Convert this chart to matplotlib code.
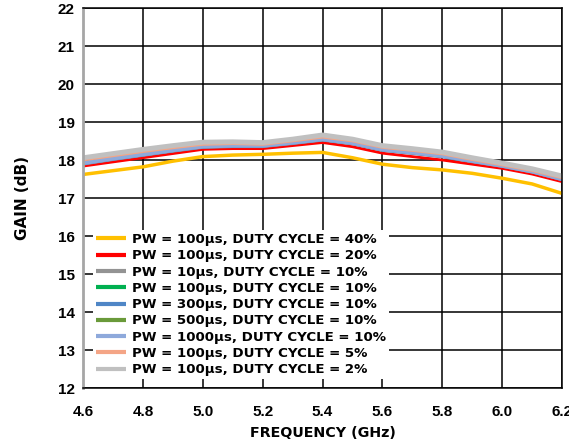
import matplotlib
matplotlib.use("Agg")
import matplotlib.pyplot as plt

plt.rcParams['font.family'] = ['Liberation Sans', 'DejaVu Sans']
plt.rcParams['font.weight'] = 'bold'

freq = [4.6, 4.7, 4.8, 4.9, 5.0, 5.1, 5.2, 5.3, 5.4, 5.5, 5.6, 5.7, 5.8, 5.9, 6.0, 6.1, 6.2]

gain_100us_40 = [17.62, 17.72, 17.82, 17.97, 18.09, 18.13, 18.15, 18.18, 18.20, 18.06, 17.89, 17.80, 17.74, 17.65, 17.52, 17.37, 17.12]
gain_100us_20 = [17.84, 17.95, 18.06, 18.17, 18.28, 18.30, 18.30, 18.38, 18.46, 18.35, 18.18, 18.09, 18.00, 17.89, 17.78, 17.63, 17.43]
gain_10us_10 = [17.90, 18.02, 18.13, 18.24, 18.34, 18.36, 18.36, 18.44, 18.53, 18.43, 18.26, 18.18, 18.09, 17.96, 17.84, 17.69, 17.49]
gain_100us_10 = [17.92, 18.04, 18.16, 18.27, 18.37, 18.39, 18.38, 18.47, 18.57, 18.47, 18.31, 18.23, 18.13, 17.99, 17.86, 17.71, 17.50]
gain_300us_10 = [17.91, 18.03, 18.14, 18.25, 18.35, 18.37, 18.37, 18.45, 18.54, 18.44, 18.27, 18.19, 18.10, 17.97, 17.85, 17.70, 17.49]
gain_500us_10 = [17.93, 18.05, 18.17, 18.28, 18.38, 18.40, 18.39, 18.48, 18.58, 18.48, 18.32, 18.23, 18.13, 18.00, 17.87, 17.72, 17.51]
gain_1000us_10 = [17.92, 18.04, 18.15, 18.26, 18.36, 18.38, 18.38, 18.46, 18.55, 18.45, 18.28, 18.20, 18.11, 17.98, 17.85, 17.70, 17.50]
gain_100us_5 = [18.01, 18.12, 18.23, 18.33, 18.42, 18.44, 18.42, 18.51, 18.61, 18.51, 18.34, 18.26, 18.17, 18.02, 17.88, 17.73, 17.54]
gain_100us_2 = [18.06, 18.17, 18.28, 18.38, 18.47, 18.48, 18.46, 18.55, 18.66, 18.55, 18.38, 18.30, 18.21, 18.06, 17.92, 17.77, 17.58]

labels = [
    "PW = 100µs, DUTY CYCLE = 40%",
    "PW = 100µs, DUTY CYCLE = 20%",
    "PW = 10µs, DUTY CYCLE = 10%",
    "PW = 100µs, DUTY CYCLE = 10%",
    "PW = 300µs, DUTY CYCLE = 10%",
    "PW = 500µs, DUTY CYCLE = 10%",
    "PW = 1000µs, DUTY CYCLE = 10%",
    "PW = 100µs, DUTY CYCLE = 5%",
    "PW = 100µs, DUTY CYCLE = 2%",
]
series = [gain_100us_40, gain_100us_20, gain_10us_10, gain_100us_10, gain_300us_10,
          gain_500us_10, gain_1000us_10, gain_100us_5, gain_100us_2]
colors = ['#FFC000', '#FF0000', '#939393', '#00B050', '#4F86C6',
          '#6A9A3A', '#8EA9DB', '#F4A586', '#C0C0C0']
widths = [2.5, 2.0, 2.5, 2.0, 2.5, 2.0, 3.0, 2.5, 3.5]

fig = plt.figure(figsize=(5.69, 4.46), dpi=100)
ax = fig.add_axes([0.1459, 0.130, 0.842, 0.852])

for y, lab, c, w in zip(series, labels, colors, widths):
    ax.plot(freq, y, color=c, lw=w, label=lab, solid_capstyle='butt')

ax.set_xlim(4.6, 6.2)
ax.set_ylim(12, 22)
ax.set_xticks([4.6, 4.8, 5.0, 5.2, 5.4, 5.6, 5.8, 6.0, 6.2])
ax.set_xticklabels(["4.6", "4.8", "5.0", "5.2", "5.4", "5.6", "5.8", "6.0", "6.2"])
ax.set_yticks(range(12, 23))
ax.grid(True, color='black', lw=1.1)
ax.set_axisbelow(True)
ax.tick_params(length=0, labelsize=11)
ax.tick_params(axis='x', pad=12)
ax.tick_params(axis='y', pad=6)
for lab in ax.get_xticklabels() + ax.get_yticklabels():
    lab.set_fontweight('bold')

for s in ['top', 'right', 'bottom']:
    ax.spines[s].set_color('black')
    ax.spines[s].set_linewidth(1.1)
ax.spines['left'].set_color('#A6A6A6')
ax.spines['left'].set_linewidth(2.0)

ax.set_xlabel("FREQUENCY (GHz)", fontsize=10.3, fontweight='bold', labelpad=5,
              family='DejaVu Sans')
ax.set_ylabel("GAIN (dB)", fontsize=11, fontweight='bold', labelpad=20,
              family='DejaVu Sans')

leg = ax.legend(loc='lower left', bbox_to_anchor=(0.021, 0.024), borderaxespad=0,
                frameon=True, fancybox=False, edgecolor='none', facecolor='white',
                framealpha=1, prop={'family': 'DejaVu Sans', 'weight': 'bold', 'size': 9.6},
                handlelength=2.3, handletextpad=0.45,
                labelspacing=0.245, borderpad=0.2)
for h in leg.get_lines():
    h.set_linewidth(3)

fig.savefig("out.png", dpi=100)
